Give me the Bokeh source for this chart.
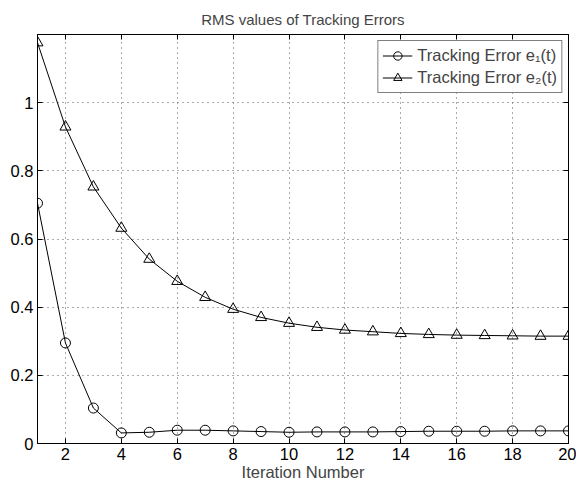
from bokeh.plotting import figure
from bokeh.models import LinearAxis, Range1d, FixedTicker, Legend, LegendItem, ColumnDataSource
from bokeh.embed import file_html
from bokeh.resources import INLINE

iterations = list(range(1, 21))
e1 = [0.705, 0.295, 0.104, 0.031, 0.033, 0.039, 0.039, 0.037, 0.035, 0.033,
      0.034, 0.034, 0.034, 0.035, 0.036, 0.036, 0.036, 0.037, 0.037, 0.037]
e2 = [1.176, 0.929, 0.753, 0.632, 0.541, 0.476, 0.429, 0.394, 0.370, 0.353,
      0.341, 0.333, 0.328, 0.323, 0.320, 0.318, 0.317, 0.316, 0.315, 0.315]
x_ticks = [2, 4, 6, 8, 10, 12, 14, 16, 18, 20]
y_ticks = [0, 0.2, 0.4, 0.6, 0.8, 1.0]
title = "RMS values of Tracking Errors"
xlabel = "Iteration Number"
labels = ["Tracking Error e\u2081(t)", "Tracking Error e\u2082(t)"]

FONT = "Liberation Sans"

p = figure(width=576, height=483, output_backend="svg", toolbar_location=None,
           x_range=Range1d(1, 20), y_range=Range1d(0, 1.2),
           x_axis_location=None, y_axis_location=None,
           min_border_left=37, min_border_right=8, min_border_top=34, min_border_bottom=40)
p.title.text = title
p.title.align = "center"
p.title.text_font = FONT
p.title.text_font_style = "normal"
p.title.text_font_size = "15px"
p.title.standoff = 13
p.outline_line_color = "black"
p.outline_line_width = 1

def mk_axis(ticks, show_labels, label=None):
    ax = LinearAxis(ticker=FixedTicker(ticks=ticks))
    ax.major_tick_in = 5
    ax.major_tick_out = 0
    ax.minor_tick_in = 0
    ax.minor_tick_out = 0
    ax.axis_line_color = "black"
    ax.major_tick_line_color = "black"
    ax.major_label_text_font = FONT
    ax.major_label_text_font_size = "16.5px"
    ax.major_label_text_color = "black"
    ax.major_label_standoff = 4
    if not show_labels:
        ax.major_label_overrides = {t: "" for t in ticks}
        ax.major_label_standoff = 0
    if label:
        ax.axis_label = label
        ax.axis_label_text_font = FONT
        ax.axis_label_text_font_style = "normal"
        ax.axis_label_text_font_size = "16.5px"
        ax.axis_label_standoff = 0
    return ax

bx = mk_axis(x_ticks, True, xlabel)
ly = mk_axis(y_ticks, True)
ly.major_label_overrides = {0: "0", 1: "1"}
tx = mk_axis(x_ticks, False)
ry = mk_axis(y_ticks, False)
p.add_layout(bx, "below")
p.add_layout(ly, "left")
p.add_layout(tx, "above")
p.add_layout(ry, "right")

p.xgrid.ticker = FixedTicker(ticks=x_ticks)
p.ygrid.ticker = FixedTicker(ticks=y_ticks)
for g in (p.xgrid, p.ygrid):
    g.grid_line_color = "#555555"
    g.grid_line_dash = "1 4"
    g.grid_line_width = 1

src = ColumnDataSource(dict(x=iterations, e1=e1, e2=e2))
l1 = p.line("x", "e1", source=src, line_color="black", line_width=1)
m1 = p.scatter("x", "e1", source=src, marker="circle", size=10,
               fill_color=None, line_color="black", line_width=1)
l2 = p.line("x", "e2", source=src, line_color="black", line_width=1)
m2 = p.scatter("x", "e2", source=src, marker="triangle", size=11,
               fill_color=None, line_color="black", line_width=1)

legend = Legend(items=[LegendItem(label=labels[0], renderers=[l1, m1]),
                       LegendItem(label=labels[1], renderers=[l2, m2])],
                location="top_right")
legend.label_text_font = FONT
legend.label_text_font_size = "16.5px"
legend.border_line_color = "black"
legend.border_line_width = 1
legend.background_fill_color = "white"
legend.background_fill_alpha = 1
legend.margin = 6
legend.padding = 4
legend.spacing = 1
legend.glyph_width = 30
legend.glyph_height = 21
legend.label_height = 21
p.add_layout(legend)

open("out.html", "w").write(file_html(p, INLINE))
